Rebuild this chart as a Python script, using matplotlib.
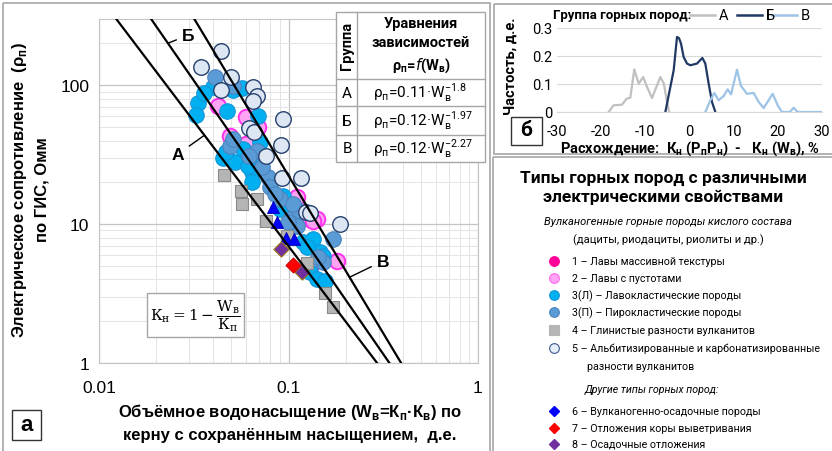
import matplotlib
matplotlib.use('Agg')
import matplotlib.pyplot as plt
import numpy as np
from matplotlib.patches import Rectangle
from matplotlib.ticker import NullFormatter

plt.rcParams['font.family'] = ['Liberation Sans', 'DejaVu Sans']
plt.rcParams['mathtext.fontset'] = 'dejavusans'
plt.rcParams['axes.unicode_minus'] = False
CAL = ['Roboto', 'DejaVu Sans']   # вместо Calibri

# ---------- панель а: уравнения ----------
groups = ['А', 'Б', 'В']
coef = [0.11, 0.12, 0.12]
power = [-1.8, -1.97, -2.27]

# 3(Л) - лавокластические
w_3l = [0.0333, 0.0325, 0.040, 0.0474, 0.051, 0.057, 0.069, 0.0451, 0.052, 0.064, 0.064, 0.068,
        0.0707, 0.0935, 0.108, 0.090, 0.119, 0.135, 0.147, 0.130, 0.141, 0.156, 0.125, 0.152,
        0.0575, 0.0612, 0.036, 0.047]
rho_3l = [75, 61, 97, 65, 92, 95, 60, 30, 28, 23.7, 20, 28,
          39, 16, 12.8, 12.8, 7.4, 7.8, 6.3, 4.5, 4.0, 3.9, 6.8, 5.9,
          34.6, 26.1, 88, 33]
# 3(П) - пирокластические
w_3p = [0.041, 0.049, 0.078, 0.080, 0.090, 0.102, 0.115, 0.172, 0.152, 0.111, 0.099, 0.143,
        0.051, 0.0725, 0.068, 0.051, 0.0849, 0.062, 0.106]
rho_3p = [114, 36.4, 21.8, 18.5, 15.1, 10.9, 12.4, 7.8, 5.3, 9.7, 10.3, 5.8,
          41, 25.7, 33.5, 98, 16.4, 31, 14]
# 2 - лавы с пустотами
w_2 = [0.0425, 0.060, 0.049, 0.060, 0.111, 0.141, 0.130, 0.180, 0.130, 0.135, 0.069]
rho_2 = [71, 58.7, 43, 37.6, 15.6, 10.9, 10.9, 5.4, 4.9, 10.5, 50]
# 5 - альбитизированные и карбонатизированные
w_5 = [0.044, 0.0345, 0.0497, 0.044, 0.065, 0.068, 0.065, 0.0935, 0.062, 0.066, 0.091, 0.076,
       0.092, 0.116, 0.124, 0.130, 0.187]
rho_5 = [176, 135, 114, 92, 97, 83, 77, 57, 49, 46, 37, 31,
         21.4, 21.4, 12.2, 12.0, 10.0]
# 4 - глинистые
w_4 = [0.0457, 0.0562, 0.0568, 0.068, 0.076, 0.098, 0.125, 0.156, 0.172]
rho_4 = [22.5, 17.3, 13.9, 15.1, 10.5, 8.2, 5.24, 3.19, 2.53]
# 6, 7, 8
w_6 = [0.083, 0.087, 0.097, 0.107]
rho_6 = [13.3, 10.3, 7.9, 7.8]
w_7 = [0.1056]
rho_7 = [5.07]
w_8 = [0.0913, 0.118]
rho_8 = [6.6, 4.5]

# ---------- панель б ----------
dev_a = [-18.3, -17.2, -15.3, -14.2, -13.4, -12.5, -11.5, -10.5, -9.6, -8.5, -6.6, -5.8, -5.1, -4.6]
freq_a = [0, 0.024, 0.026, 0.048, 0.051, 0.152, 0.101, 0.125, 0.089, 0.05, 0.125, 0.101, 0.036, 0]
dev_b = [-5.47, -4.34, -3.58, -2.83, -2.38, -1.92, -1.32, -0.57, 0.19, 1.70, 2.91, 3.58, 4.34, 5.09, 5.85]
freq_b = [0, 0.089, 0.149, 0.268, 0.264, 0.244, 0.196, 0.173, 0.167, 0.173, 0.193, 0.173, 0.101, 0.036, 0]
dev_v = [3.58, 4.72, 5.62, 6.60, 7.74, 8.64, 9.40, 10.75, 11.66, 13.02, 14.53, 15.66, 16.79, 17.92,
         18.83, 19.96, 20.94, 22.68, 23.58, 24.49, 30]
freq_v = [0, 0.042, 0.068, 0.042, 0.057, 0.081, 0.063, 0.151, 0.093, 0.065, 0.068, 0.036, 0.014, 0.042,
          0.065, 0.024, 0, 0, 0.015, 0, 0]

legend_labels = ['1 – Лавы массивной текстуры', '2 – Лавы с пустотами', '3(Л) – Лавокластические породы',
                 '3(П) – Пирокластические породы', '4 – Глинистые разности вулканитов',
                 '5 – Альбитизированные и карбонатизированные']
legend_labels2 = ['6 – Вулканогенно-осадочные породы', '7 – Отложения коры выветривания',
                  '8 – Осадочные отложения']

W, H = 832, 452
fig = plt.figure(figsize=(W / 100, H / 100), dpi=100)


def rect(l, t, r, b):
    return [l / W, 1 - b / H, (r - l) / W, (b - t) / H]


# ===== scatter =====
ax = fig.add_axes(rect(99, 20, 478, 364))
ax.set_xscale('log')
ax.set_yscale('log')
ax.set_xlim(0.01, 1)
ax.set_ylim(1, 300)
ax.grid(which='major', color='#c4c4c4', lw=0.9)
ax.grid(which='minor', color='#e4e4e4', lw=0.7)
ax.set_axisbelow(True)
for s in ax.spines.values():
    s.set_color('#c4c4c4')
ax.tick_params(which='both', length=0, labelsize=12.5)
ax.tick_params(axis='x', pad=12)
ax.tick_params(axis='y', pad=7)
ax.set_xticks([0.01, 0.1, 1], ['0.01', '0.1', '1'])
ax.set_yticks([1, 10, 100], ['1', '10', '100'])
ax.xaxis.set_minor_formatter(NullFormatter())
ax.yaxis.set_minor_formatter(NullFormatter())

ax.scatter(w_2, rho_2, s=125, c='#ffa3f2', edgecolors='#ff33ee', linewidths=1.4, zorder=2)
ax.scatter(w_3l, rho_3l, s=125, c='#00b0f0', edgecolors='#1496d8', linewidths=0.8, zorder=2)
ax.scatter(w_3p, rho_3p, s=125, c='#5b9bd5', edgecolors='#4a85c0', linewidths=0.8, zorder=2)
ax.scatter(w_5, rho_5, s=125, c='#dde7f3', edgecolors='#25406e', linewidths=1.0, zorder=3)
ax.scatter(w_4, rho_4, s=80, marker='s', c='#b5b5b5', edgecolors='#8a8a8a', linewidths=0.8, zorder=4)
ax.scatter(w_6, rho_6, s=75, marker='^', c='#0000ff', edgecolors='#0000b0', linewidths=0.6, zorder=5)
ax.scatter(w_8, rho_8, s=60, marker='D', c='#7030a0', edgecolors='#9c7a10', linewidths=0.8, zorder=5)
ax.scatter(w_7, rho_7, s=60, marker='D', c='#ff0000', edgecolors='#c00000', linewidths=0.6, zorder=5)

wl = np.logspace(-2, 0, 300)
for c, p in zip(coef, power):
    ax.plot(wl, c * wl ** p, color='black', lw=1.6, zorder=6)

label_pos = [(0.0261, 31.9, 0.036), (0.0295, 229, 0.0231), (0.315, 5.42, 0.21)]
for g, c, p, (tx, ty, wx) in zip(groups, coef, power, label_pos):
    ax.annotate(g, xy=(wx, c * wx ** p), xytext=(tx, ty), ha='center', va='center',
                fontsize=12.5, fontweight='bold', zorder=7,
                arrowprops=dict(arrowstyle='-', color='black', lw=1, shrinkA=2, shrinkB=0))

# ===== панель б =====
bx = fig.add_axes(rect(557, 29, 822, 113))
bx.plot(dev_a, freq_a, color='#c0c0c0', lw=1.6)
bx.plot(dev_b, freq_b, color='#1f3864', lw=1.6)
bx.plot(dev_v, freq_v, color='#9dc3e6', lw=1.6)
bx.set_xlim(-30, 30)
bx.set_ylim(0, 0.3)
bx.set_xticks(range(-30, 31, 10))
bx.set_yticks([0, 0.1, 0.2, 0.3], ['0', '0.1', '0.2', '0.3'])
bx.grid(axis='y', color='#d9d9d9', lw=0.8)
bx.set_axisbelow(True)
for k in ['left', 'right', 'top']:
    bx.spines[k].set_visible(False)
bx.spines['bottom'].set_color('#d9d9d9')
bx.tick_params(length=0, labelsize=10.5)
bx.tick_params(axis='x', pad=9)
for t in bx.get_xticklabels() + bx.get_yticklabels():
    t.set_family(CAL)

# ===== оформление поверх =====
ov = fig.add_axes([0, 0, 1, 1])
ov.set_xlim(0, W)
ov.set_ylim(H, 0)
ov.axis('off')
ov.set_zorder(10)
frame = '#a6a6a6'
ov.add_patch(Rectangle((3, 4), 487, 470, fill=False, ec=frame, lw=1.2))
ov.add_patch(Rectangle((494, 5), 360, 150, fill=False, ec=frame, lw=1.2))
ov.add_patch(Rectangle((493, 158), 360, 320, fill=False, ec=frame, lw=1.2))

# подписи осей панели а
ov.text(20, 190, 'Электрическое сопротивление  (ρ$_\\mathregular{п}$)', rotation=90, ha='center',
        va='center', fontsize=12, fontweight='bold')
ov.text(42, 190, 'по ГИС, Омм', rotation=90, ha='center', va='center', fontsize=12, fontweight='bold')
ov.text(290, 412, 'Объёмное водонасыщение (W$_\\mathregular{в}$=К$_\\mathregular{п}$·К$_\\mathregular{в}$) по',
        ha='center', va='center', fontsize=12, fontweight='bold')
ov.text(290, 436, 'керну с сохранённым насыщением,  д.е.', ha='center', va='center',
        fontsize=12, fontweight='bold')
ov.add_patch(Rectangle((12, 411), 29, 30, fill=False, ec='#333333', lw=1))
ov.text(26.5, 426, 'а', ha='center', va='center', fontsize=16, fontweight='bold')

# формула
ov.add_patch(Rectangle((147, 294), 97, 44, fc='white', ec=frame, lw=1))
ov.text(195.5, 316, r'$\mathrm{К}_{\mathrm{н}} = 1 - \dfrac{\mathrm{W}_{\mathrm{в}}}{\mathrm{К}_{\mathrm{п}}}$',
        ha='center', va='center', fontsize=11, math_fontfamily='dejavuserif')

# таблица уравнений
ov.add_patch(Rectangle((336, 13), 149, 150, fc='white', ec=frame, lw=1))
ov.plot([357, 357], [13, 163], color=frame, lw=1)
for yy in [80, 107, 136]:
    ov.plot([336, 485], [yy, yy], color=frame, lw=1)
ov.text(347, 46, 'Группа', rotation=90, ha='center', va='center', fontsize=10.5,
        fontweight='bold', family=CAL)
ov.text(421, 46, 'Уравнения\nзависимостей\nρ$_\\mathregular{п}$=$\\mathit{f}$(W$_\\mathregular{в}$)',
        ha='center', va='center', fontsize=10.5, fontweight='bold', family=CAL, linespacing=1.45)
for i, (g, c, p) in enumerate(zip(groups, coef, power)):
    yy = [93.5, 121.5, 149.5][i]
    ov.text(347, yy, g, ha='center', va='center', fontsize=11, family=CAL)
    ov.text(373, yy, 'ρ$_\\mathregular{п}$=%s·W$_\\mathregular{в}^\\mathregular{%s}$' % (c, p),
            ha='left', va='center', fontsize=11, family=CAL)

# подписи панели б
ov.text(511, 66, 'Частость, д.е.', rotation=90, ha='center', va='center', fontsize=10.5,
        fontweight='bold', family=CAL)
ov.text(690, 149, 'Расхождение:  К$_\\mathregular{н}$ (Р$_\\mathregular{п}$Р$_\\mathregular{н}$)  -   '
        'К$_\\mathregular{н}$ (W$_\\mathregular{в}$), %', ha='center', va='center', fontsize=10.5,
        fontweight='bold', family=CAL)
ov.add_patch(Rectangle((511, 118), 31, 28, fc='white', ec='#333333', lw=1))
ov.text(526.5, 131, 'б', ha='center', va='center', fontsize=15, fontweight='bold', family=CAL)
ov.text(553, 16, 'Группа горных пород:', ha='left', va='center', fontsize=9.5, fontweight='bold',
        family=CAL)
for (x0, col, g) in [(690, '#c0c0c0', 'А'), (737, '#1f3864', 'Б'), (772, '#9dc3e6', 'В')]:
    ov.plot([x0, x0 + 25], [16, 16], color=col, lw=1.8)
    ov.text(x0 + 29, 16, g, ha='left', va='center', fontsize=10.5, family=CAL)

# легенда типов пород
ov.text(663, 178, 'Типы горных пород с различными', ha='center', va='center', fontsize=12.5,
        fontweight='bold', family=CAL)
ov.text(663, 197, 'электрическими свойствами', ha='center', va='center', fontsize=12.5,
        fontweight='bold', family=CAL)
ov.text(668, 222, 'Вулканогенные горные породы кислого состава', ha='center', va='center',
        fontsize=8, style='italic', family=CAL)
ov.text(668, 240, '(дациты, риодациты, риолиты и др.)', ha='center', va='center', fontsize=8,
        family=CAL)
styles1 = [('o', '#ff0099', '#ff0099'), ('o', '#ffa3f2', '#ff66ee'), ('o', '#00b0f0', '#1496d8'),
           ('o', '#5b9bd5', '#4a85c0'), ('s', '#b5b5b5', '#b5b5b5'), ('o', '#e6eef8', '#3a5a8e')]
ys1 = [262, 279, 296, 313, 331, 349]
for lab, (m, fc, ec), yy in zip(legend_labels, styles1, ys1):
    ov.plot([554], [yy], marker=m, ms=7, mfc=fc, mec=ec, mew=0.8, ls='none')
    ov.text(572, yy, lab, ha='left', va='center', fontsize=7.7, family=CAL)
ov.text(587, 367, 'разности вулканитов', ha='left', va='center', fontsize=7.7, family=CAL)
ov.text(585, 390, 'Другие типы горных пород:', ha='left', va='center', fontsize=7.7,
        style='italic', family=CAL)
styles2 = [('D', '#0000ff'), ('D', '#ff0000'), ('D', '#7030a0')]
ys2 = [412, 429, 445]
for lab, (m, fc), yy in zip(legend_labels2, styles2, ys2):
    ov.plot([554], [yy], marker=m, ms=5.5, mfc=fc, mec=fc, ls='none')
    ov.text(572, yy, lab, ha='left', va='center', fontsize=7.7, family=CAL)

fig.savefig('out.png', dpi=100)
